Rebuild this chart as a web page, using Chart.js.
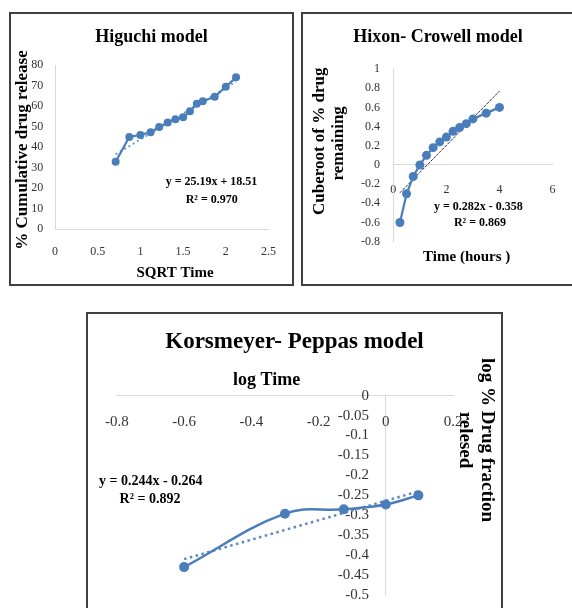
<!DOCTYPE html>
<html>
<head>
<meta charset="utf-8">
<title>Release kinetics models</title>
<script src="https://cdn.jsdelivr.net/npm/chart.js@4.4.1/dist/chart.umd.min.js"></script>
<style>
  html, body { margin: 0; padding: 0; background: #fff; }
  body { width: 572px; height: 608px; position: relative; overflow: hidden; }
  .panel { position: absolute; box-sizing: border-box; border: 2px solid #404040; background: #fff; }
  .panel canvas { display: block; }
  #p1 { left: 9px; top: 12px; width: 285px; height: 274px; }
  #p2 { left: 301px; top: 12px; width: 290px; height: 274px; }
  #p3 { left: 86px; top: 312px; width: 417px; height: 310px; }
</style>
</head>
<body>
<div class="panel" id="p1"><canvas id="higuchiChart" width="281" height="270"></canvas></div>
<div class="panel" id="p2"><canvas id="hixonChart" width="270" height="270"></canvas></div>
<div class="panel" id="p3"><canvas id="peppasChart" width="413" height="300"></canvas></div>

<script>
// ---- Data ----
const higuchiX = [0.71, 0.87, 1.00, 1.12, 1.22, 1.32, 1.41, 1.50, 1.58, 1.66, 1.73, 1.87, 2.00, 2.12];
const higuchiY = [32.8, 44.9, 45.9, 47.2, 49.8, 51.9, 53.5, 54.5, 57.4, 61.1, 62.3, 64.5, 69.4, 74.0];
const higuchiFitX = [0.71, 2.12];
const higuchiFitY = [36.4, 71.9];
const higuchiXTicks = [0, 0.5, 1, 1.5, 2, 2.5];
const higuchiYTicks = [0, 10, 20, 30, 40, 50, 60, 70, 80];

const hixonX = [0.25, 0.5, 0.75, 1, 1.25, 1.5, 1.75, 2, 2.25, 2.5, 2.75, 3, 3.5, 4];
const hixonY = [-0.6, -0.3, -0.12, 0.0, 0.1, 0.18, 0.24, 0.29, 0.35, 0.39, 0.43, 0.48, 0.54, 0.60];
const hixonFitX = [0.25, 4];
const hixonFitY = [-0.29, 0.77];
const hixonXTicks = [0, 2, 4, 6];
const hixonYTicks = [-0.8, -0.6, -0.4, -0.2, 0, 0.2, 0.4, 0.6, 0.8, 1];

const peppasX = [-0.6, -0.3, -0.125, 0, 0.097];
const peppasY = [-0.43, -0.296, -0.285, -0.273, -0.25];
const peppasFitX = [-0.6, 0.097];
const peppasFitY = [-0.41, -0.24];
const peppasXTicks = [-0.8, -0.6, -0.4, -0.2, 0, 0.2];
const peppasYTicks = [0, -0.05, -0.1, -0.15, -0.2, -0.25, -0.3, -0.35, -0.4, -0.45, -0.5];

// ---- Shared bits ----
const SERIF = '"Liberation Serif", "Times New Roman", serif';
const BLUE = '#4a7ebb';
const AXIS_GREY = '#d9d9d9';

const pts = (xs, ys) => xs.map((x, i) => ({ x, y: ys[i] }));
const fixedTicks = values => scale => { scale.ticks = values.map(v => ({ value: v })); };
const tickFont = size => ({ family: SERIF, size });
const titleFont = size => ({ family: SERIF, size, weight: 'bold' });

// empty axis on the right, only keeps the plot clear of the frame
// (layout padding would pull the centred title off-centre)
const spacerAxis = width => ({
    type: 'linear', position: 'right', axis: 'y',
    grid: { display: false, drawTicks: false },
    border: { display: false },
    ticks: { display: false },
    afterFit: s => { s.width = width; }
});

// free-floating texts (axis titles, trendline equations), canvas pixels
const notesPlugin = {
    id: 'notes',
    afterDraw(chart, args, opts) {
        const ctx = chart.ctx;
        (opts.items || []).forEach(n => {
            ctx.save();
            ctx.font = 'bold ' + n.size + 'px ' + SERIF;
            ctx.fillStyle = '#000';
            ctx.textAlign = 'center';
            ctx.textBaseline = 'middle';
            ctx.translate(n.x, n.y);
            if (n.rotate) ctx.rotate(n.rotate * Math.PI / 180);
            ctx.fillText(n.text, 0, 0);
            ctx.restore();
        });
    }
};

function baseOptions(title, titleSize, titlePad) {
    return {
        responsive: false,
        animation: false,
        plugins: {
            legend: { display: false },
            tooltip: { enabled: false },
            title: {
                display: true,
                text: title,
                color: '#000',
                font: titleFont(titleSize),
                padding: titlePad
            }
        }
    };
}

function tickOpts(size, padding) {
    return { padding, font: tickFont(size), color: '#333', autoSkip: false, maxRotation: 0, callback: v => String(v) };
}

// ---- Higuchi ----
function initHiguchi() {
    const opts = baseOptions('Higuchi model', 18, { top: 12.5, bottom: 16.9 });
    opts.plugins.notes = {
        items: [
            { text: '% Cumulative drug release', x: 11.7, y: 136, size: 17, rotate: -90 },
            { text: 'SQRT Time', x: 164, y: 258.7, size: 15 },
            { text: 'y = 25.19x + 18.51', x: 200.5, y: 167.7, size: 12 },
            { text: 'R² = 0.970', x: 200.7, y: 186, size: 12 }
        ]
    };
    opts.scales = {
        x: {
            type: 'linear', min: 0, max: 2.5,
            afterBuildTicks: fixedTicks(higuchiXTicks),
            afterFit: s => { s.height = 55; },
            grid: { display: false, drawTicks: false },
            border: { color: AXIS_GREY },
            ticks: tickOpts(12, 16)
        },
        y: {
            type: 'linear', min: 0, max: 80,
            afterBuildTicks: fixedTicks(higuchiYTicks),
            afterFit: s => { s.width = 44; },
            grid: { display: false, drawTicks: false },
            border: { color: AXIS_GREY },
            ticks: tickOpts(12, 11.7)
        },
        ySpacer: spacerAxis(15)
    };

    new Chart(document.getElementById('higuchiChart'), {
        type: 'scatter',
        data: {
            datasets: [
                { data: pts(higuchiX, higuchiY), showLine: true, borderColor: BLUE, backgroundColor: BLUE,
                  borderWidth: 2.25, pointRadius: 4, pointBorderWidth: 0 },
                { data: pts(higuchiFitX, higuchiFitY), showLine: true, borderColor: '#6f9bd1',
                  borderWidth: 2, borderDash: [2, 3], pointRadius: 0 }
            ]
        },
        options: opts,
        plugins: [notesPlugin]
    });
}

// ---- Hixon-Crowell ----
function initHixon() {
    const opts = baseOptions('Hixon- Crowell model', 18, { top: 12.5, bottom: 20.9 });
    opts.layout = { padding: { bottom: 42.3 } };
    opts.plugins.notes = {
        items: [
            { text: 'Cuberoot of % drug', x: 17, y: 127.3, size: 17, rotate: -90 },
            { text: 'remaining', x: 35.3, y: 129.3, size: 17, rotate: -90 },
            { text: 'Time (hours )', x: 163.7, y: 242.7, size: 15 },
            { text: 'y = 0.282x - 0.358', x: 175.3, y: 193.3, size: 12 },
            { text: 'R² = 0.869', x: 177, y: 208.7, size: 12 }
        ]
    };
    opts.scales = {
        x: {
            type: 'linear', min: 0, max: 6, position: { y: 0 },
            afterBuildTicks: fixedTicks(hixonXTicks),
            grid: { display: false, drawTicks: false },
            border: { color: AXIS_GREY },
            ticks: tickOpts(12, 17.4)
        },
        y: {
            type: 'linear', min: -0.8, max: 1, position: 'left',
            afterBuildTicks: fixedTicks(hixonYTicks),
            afterFit: s => { s.width = 90.3; },
            grid: { display: false, drawTicks: false },
            border: { color: AXIS_GREY },
            ticks: tickOpts(12, 13.3)
        },
        ySpacer: spacerAxis(15)
    };

    new Chart(document.getElementById('hixonChart'), {
        type: 'scatter',
        data: {
            datasets: [
                { data: pts(hixonX, hixonY), showLine: true, borderColor: BLUE, backgroundColor: BLUE,
                  borderWidth: 2.25, pointRadius: 4.5, pointBorderWidth: 0 },
                { data: pts(hixonFitX, hixonFitY), showLine: true, borderColor: '#27303f',
                  borderWidth: 1, borderDash: [3, 1], pointRadius: 0 }
            ]
        },
        options: opts,
        plugins: [notesPlugin]
    });
}

// ---- Korsmeyer-Peppas ----
function initPeppas() {
    const opts = baseOptions('Korsmeyer- Peppas model', 23, { top: 13.9, bottom: 40.2 });
    opts.layout = { padding: { left: 28, right: 28, bottom: 19 } };
    opts.plugins.notes = {
        items: [
            { text: 'log Time', x: 178.7, y: 66.7, size: 18 },
            { text: 'log % Drug fraction', x: 398.7, y: 126, size: 19, rotate: 90 },
            { text: 'relesed', x: 377, y: 126, size: 19, rotate: 90 },
            { text: 'y = 0.244x - 0.264', x: 62.8, y: 167.7, size: 14 },
            { text: 'R² = 0.892', x: 62, y: 185, size: 14 }
        ]
    };
    opts.scales = {
        x: {
            type: 'linear', min: -0.8, max: 0.2, position: { y: 0 },
            afterBuildTicks: fixedTicks(peppasXTicks),
            grid: { drawTicks: false, color: c => (c.tick && c.tick.value === 0 ? AXIS_GREY : 'rgba(0,0,0,0)') },
            border: { color: AXIS_GREY },
            ticks: tickOpts(15, 17)
        },
        y: {
            // labels sit just left of the x = 0 line
            type: 'linear', min: -0.5, max: 0, position: { x: -0.05 },
            afterBuildTicks: fixedTicks(peppasYTicks),
            grid: { display: false, drawTicks: false },
            border: { display: false },
            ticks: tickOpts(15, 0)
        },
        ySpacer: spacerAxis(20)
    };

    new Chart(document.getElementById('peppasChart'), {
        type: 'scatter',
        data: {
            datasets: [
                { data: pts(peppasX, peppasY), showLine: true, tension: 0.4, borderColor: BLUE, backgroundColor: BLUE,
                  borderWidth: 2.5, pointRadius: 5, pointBorderWidth: 0 },
                { data: pts(peppasFitX, peppasFitY), showLine: true, borderColor: '#5b8ac6',
                  borderWidth: 2.5, borderDash: [2.5, 3.5], pointRadius: 0 }
            ]
        },
        options: opts,
        plugins: [notesPlugin]
    });
}

// ---- Initialize ----
initHiguchi();
initHixon();
initPeppas();
</script>
</body>
</html>
